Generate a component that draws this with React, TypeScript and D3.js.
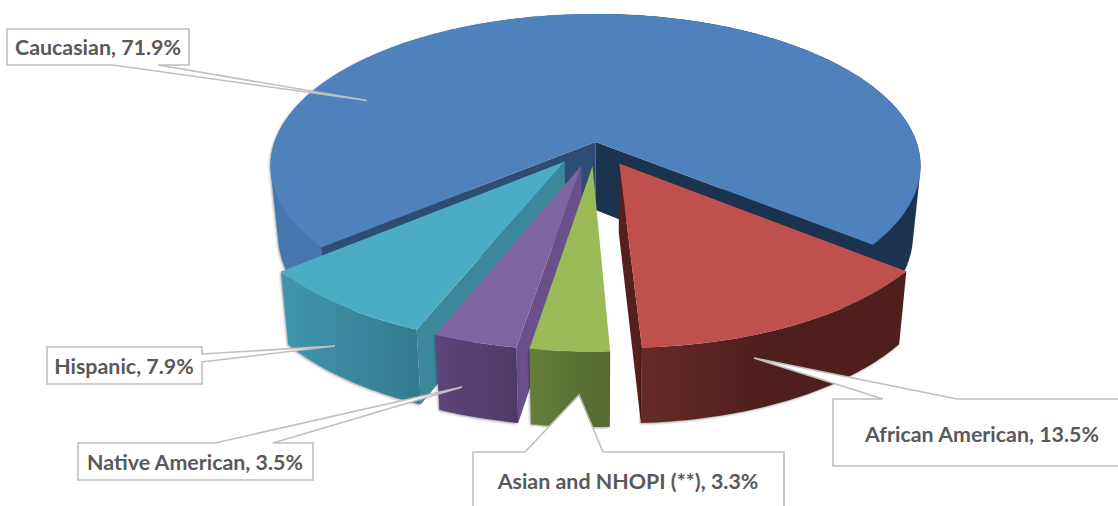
import { useRef, useEffect } from 'react';
import * as d3 from 'd3';

// clockwise from the back-left edge of the large slice
const categories = ['Caucasian', 'African American', 'Asian and NHOPI (**)', 'Native American', 'Hispanic'];
const shares = [71.9, 13.5, 3.3, 3.5, 7.9];

const topColors = ['#4f81bd', '#c0504d', '#9bbb59', '#8064a2', '#4bacc6'];
const wallStops = [
  ['#4576ad', '#4576ad'],
  ['#682a27', '#4e1f1c'],
  ['#667e39', '#55692f'],
  ['#5e4479', '#4e3a66'],
  ['#4096ae', '#347a8e'],
];
const cutColors = ['#2d4d75', '#571f1b', '#566a30', '#6a4f8a', '#3c8799'];
const explode = [0, 0.16, 0.16, 0.16, 0.16];
const drawOrder = [0, 1, 4, 3, 2];
// which radial edges of each slice face the viewer (0 = start, 1 = end)
const visibleCuts = [[0, 1], [1], [], [0], [0]];

// callout box: x0, y0, x1, y1, text x, baseline
const labelBoxes = [
  [7, 29, 189, 65, 98, 55],
  [833, 399, 1130, 466, 982, 442],
  [473, 452, 784, 520, 628, 489],
  [78, 443, 313, 480, 195, 470],
  [47, 347, 202, 384, 124, 374],
];
// leader wedge: first base point, tip, second base point
const leaders = [
  [[113, 65], [367, 100.5], [158, 65]],
  [[957, 399], [754, 358], [883, 399]],
  [[525, 452], [579, 395], [603, 452]],
  [[215, 443], [462, 387], [273, 443]],
  [[202, 354], [335, 346], [202, 362]],
];

const cx = 595.5;
const cy = 142;
const focal = 321;
const tilt = 148;
const persp = 0.156;
const bottomScale = 0.977;

type P = [number, number];

function project(angle: number, r: number, mid: number, e: number, bottom: boolean): P {
  const X = r * Math.sin(angle) + e * Math.sin(mid);
  const Z = -r * Math.cos(angle) - e * Math.cos(mid);
  const w = 1 - persp * Z;
  const x = (focal * X) / w;
  const y = (tilt * Z) / w;
  if (!bottom) return [cx + x, cy + y];
  return [cx + x * bottomScale, cy + y + 68 + 6.5 * Z];
}

function arcPoints(a0: number, a1: number, mid: number, e: number, bottom: boolean): P[] {
  const n = Math.max(2, Math.ceil(Math.abs(a1 - a0) / 0.02));
  return d3.range(n + 1).map((i) => project(a0 + ((a1 - a0) * i) / n, 1, mid, e, bottom));
}

export default function App() {
  const svgRef = useRef<SVGSVGElement>(null);

  useEffect(() => {
    if (!svgRef.current) return;
    const svg = d3.select(svgRef.current);
    svg.selectAll('*').remove();

    const startDeg = -129.8;
    const arcs = d3.pie<number>().sort(null)
      .startAngle((startDeg * Math.PI) / 180)
      .endAngle(((startDeg + 360) * Math.PI) / 180)(shares);

    const line = d3.line<P>().x((d) => d[0]).y((d) => d[1]);
    const closed = (pts: P[]) => line(pts) + 'Z';

    const defs = svg.append('defs');
    wallStops.forEach((stops, i) => {
      const grad = defs.append('linearGradient').attr('id', `wall-${i}`);
      grad.append('stop').attr('offset', '0%').attr('stop-color', stops[0]);
      grad.append('stop').attr('offset', i === 1 ? '45%' : '100%').attr('stop-color', stops[1]);
    });

    drawOrder.forEach((i) => {
      const { startAngle: a0, endAngle: a1 } = arcs[i];
      const mid = (a0 + a1) / 2;
      const e = explode[i];
      const g = svg.append('g');
      const apexTop = project(0, 0, mid, e, false);
      const apexBottom = project(0, 0, mid, e, true);

      const cuts = () => {
        visibleCuts[i].forEach((k) => {
          const a = k === 0 ? a0 : a1;
          const fill = i === 0 && k === 1 ? '#1c3350' : cutColors[i];
          g.append('path')
            .attr('d', closed([apexTop, project(a, 1, mid, e, false), project(a, 1, mid, e, true), apexBottom]))
            .attr('fill', fill);
        });
      };

      const shadow = 'drop-shadow(-1px 1px 1px rgba(0,0,0,0.35))';
      if (i === 0) {
        // the big slice passes the rim's side extremes, so its walls are filled to the silhouette
        const hull = (from: number, to: number) =>
          d3.polygonHull([...arcPoints(from, to, mid, e, false), ...arcPoints(from, to, mid, e, true)])!;
        g.append('path').attr('d', closed(hull(a0, 0))).attr('fill', 'url(#wall-0)').style('filter', shadow);
        g.append('path').attr('d', closed(hull(0, a1))).attr('fill', '#1c3350').style('filter', shadow);
        cuts();
      } else {
        cuts();
        g.append('path')
          .attr('d', closed([...arcPoints(a0, a1, mid, e, false), ...arcPoints(a1, a0, mid, e, true)]))
          .attr('fill', `url(#wall-${i})`)
          .style('filter', shadow);
      }

      // top face
      g.append('path')
        .attr('d', closed([apexTop, ...arcPoints(a0, a1, mid, e, false)]))
        .attr('fill', topColors[i]);
    });

    // callouts
    categories.forEach((name, i) => {
      const [x0, y0, x1, y1, tx, ty] = labelBoxes[i];
      const [p, tip, q] = leaders[i];
      let outline: number[][];
      if (i === 4) {
        outline = [[x0, y0], [x1, y0], p, tip, q, [x1, y1], [x0, y1]];
      } else if (i === 0) {
        // leader leaves the bottom edge
        outline = [[x0, y0], [x1, y0], [x1, y1], q, tip, p, [x0, y1]];
      } else {
        const [left, right] = p[0] < q[0] ? [p, q] : [q, p];
        outline = [[x0, y0], left, tip, right, [x1, y0], [x1, y1], [x0, y1]];
      }
      svg.append('path')
        .attr('d', closed(outline as P[]))
        .attr('fill', '#fff')
        .attr('stroke', '#bfbfbf')
        .attr('stroke-width', 1.6);
      svg.append('text')
        .attr('x', tx).attr('y', ty)
        .attr('text-anchor', 'middle')
        .attr('fill', '#595959')
        .style('font-family', 'Lato, "Open Sans", sans-serif')
        .style('font-weight', 700)
        .style('font-size', '21.4px')
        .text(`${name}, ${shares[i].toFixed(1)}%`);
    });
  }, []);

  return (
    <svg
      ref={svgRef}
      width={1118}
      height={506}
      viewBox="0 0 1118 506"
      style={{ position: 'absolute', left: 0, top: 0, background: '#fff' }}
    />
  );
}
